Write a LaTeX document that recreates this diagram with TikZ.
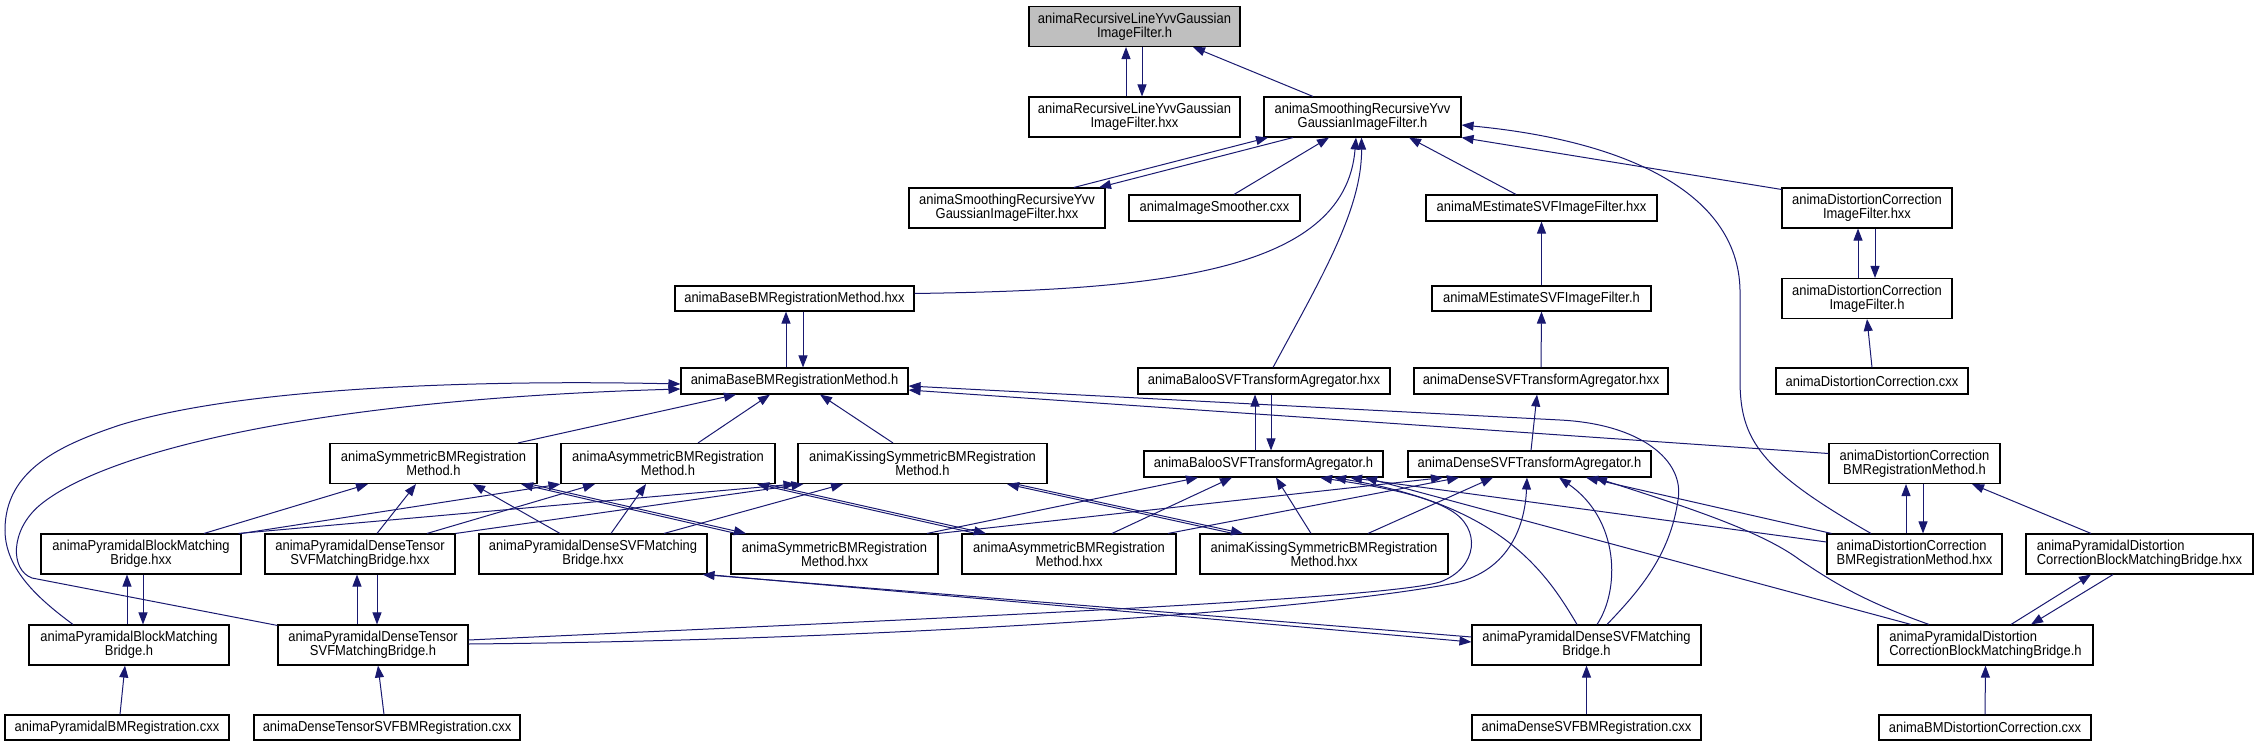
\documentclass[tikz,border=0pt]{standalone}
\usepackage{fontspec}
\setmainfont{Liberation Sans}
\newfontfamily\dotFont[FakeStretch=0.9]{Liberation Sans}
\usetikzlibrary{arrows.meta,calc}
\definecolor{incBlue}{HTML}{191970}
\definecolor{rootGray}{HTML}{BFBFBF}
\begin{document}
\begin{tikzpicture}[x=1pt, y=-1pt,
  file/.style={draw=black, line width=1.1pt, rectangle, inner sep=0pt, fill=white,
    align=center, font=\dotFont\fontsize{14.4}{14}\selectfont},
  oneline/.style={minimum height=26pt},
  twoline/.style={minimum height=40pt},
  inc/.style={draw=incBlue, line width=1pt, -{Triangle[length=12pt,width=9pt]}}]
\useasboundingbox (0,0) rectangle (2259,747);
% Files, top to bottom
\node[file, twoline, fill=rootGray, minimum width=211pt] (root) at (1134.5,26.5) {animaRecursiveLineYvvGaussian\\ImageFilter.h};
\node[file, twoline, minimum width=211pt] (rlhxx) at (1134.5,117) {animaRecursiveLineYvvGaussian\\ImageFilter.hxx};
\node[file, twoline, minimum width=197pt] (sryh) at (1362.5,117) {animaSmoothingRecursiveYvv\\GaussianImageFilter.h};
\node[file, twoline, minimum width=196pt] (sryhxx) at (1007,208) {animaSmoothingRecursiveYvv\\GaussianImageFilter.hxx};
\node[file, oneline, minimum width=171pt] (smoother) at (1214.5,208) {animaImageSmoother.cxx};
\node[file, oneline, minimum width=231pt] (mesthxx) at (1541.5,208) {animaMEstimateSVFImageFilter.hxx};
\node[file, twoline, minimum width=170pt] (dcifhxx) at (1867,208) {animaDistortionCorrection\\ImageFilter.hxx};
\node[file, oneline, minimum width=239pt, minimum height=25pt] (basehxx) at (794.5,298.5) {animaBaseBMRegistrationMethod.hxx};
\node[file, oneline, minimum width=219pt, minimum height=25pt] (mesth) at (1541.5,298.5) {animaMEstimateSVFImageFilter.h};
\node[file, twoline, minimum width=170pt] (dcifh) at (1867,298.5) {animaDistortionCorrection\\ImageFilter.h};
\node[file, oneline, minimum width=227pt] (baseh) at (794.5,381) {animaBaseBMRegistrationMethod.h};
\node[file, oneline, minimum width=252pt] (baloohxx) at (1264,381) {animaBalooSVFTransformAgregator.hxx};
\node[file, oneline, minimum width=254pt] (densehxx) at (1541,381) {animaDenseSVFTransformAgregator.hxx};
\node[file, oneline, minimum width=192pt] (dccxx) at (1872,381) {animaDistortionCorrection.cxx};
\node[file, twoline, minimum width=207pt] (symh) at (433.5,463.5) {animaSymmetricBMRegistration\\Method.h};
\node[file, twoline, minimum width=214pt] (asymh) at (668,463.5) {animaAsymmetricBMRegistration\\Method.h};
\node[file, twoline, minimum width=249pt] (kissh) at (922.5,463.5) {animaKissingSymmetricBMRegistration\\Method.h};
\node[file, oneline, minimum width=239pt] (balooh) at (1263.5,464) {animaBalooSVFTransformAgregator.h};
\node[file, oneline, minimum width=243pt] (denseh) at (1529.5,464) {animaDenseSVFTransformAgregator.h};
\node[file, twoline, minimum width=171pt] (dcbmh) at (1914.5,463.5) {animaDistortionCorrection\\BMRegistrationMethod.h};
\node[file, twoline, minimum width=200pt] (pbhxx) at (141,554) {animaPyramidalBlockMatching\\Bridge.hxx};
\node[file, twoline, minimum width=190pt] (pdthxx) at (360,554) {animaPyramidalDenseTensor\\SVFMatchingBridge.hxx};
\node[file, twoline, minimum width=228pt] (pdshxx) at (593,554) {animaPyramidalDenseSVFMatching\\Bridge.hxx};
\node[file, twoline, minimum width=207pt] (symhxx) at (834.5,554) {animaSymmetricBMRegistration\\Method.hxx};
\node[file, twoline, minimum width=214pt] (asymhxx) at (1069,554) {animaAsymmetricBMRegistration\\Method.hxx};
\node[file, twoline, minimum width=248pt] (kisshxx) at (1324,554) {animaKissingSymmetricBMRegistration\\Method.hxx};
\node[file, twoline, minimum width=175pt, align=left] (dcbmhxx) at (1914.5,554) {animaDistortionCorrection\\BMRegistrationMethod.hxx};
\node[file, twoline, minimum width=227pt, align=left] (pdchxx) at (2139.5,554) {animaPyramidalDistortion\\CorrectionBlockMatchingBridge.hxx};
\node[file, twoline, minimum width=200pt] (pbh) at (129,645) {animaPyramidalBlockMatching\\Bridge.h};
\node[file, twoline, minimum width=190pt] (pdth) at (373,645) {animaPyramidalDenseTensor\\SVFMatchingBridge.h};
\node[file, twoline, minimum width=229pt] (pdsh) at (1586.5,645) {animaPyramidalDenseSVFMatching\\Bridge.h};
\node[file, twoline, minimum width=215pt, align=left] (pdch) at (1985.5,645) {animaPyramidalDistortion\\CorrectionBlockMatchingBridge.h};
\node[file, oneline, minimum width=224pt, minimum height=25pt] (pbmcxx) at (117,727.5) {animaPyramidalBMRegistration.cxx};
\node[file, oneline, minimum width=266pt, minimum height=25pt] (dtsvfcxx) at (387,727.5) {animaDenseTensorSVFBMRegistration.cxx};
\node[file, oneline, minimum width=229pt, minimum height=25pt] (dsvfcxx) at (1586.5,727.5) {animaDenseSVFBMRegistration.cxx};
\node[file, oneline, minimum width=212pt, minimum height=25pt] (bmdccxx) at (1985,727.5) {animaBMDistortionCorrection.cxx};
% Includes of the root header
\draw[inc] ($(rlhxx.north)+(-8.5,0)$) -- ($(root.south)+(-8.5,0)$);
\draw[inc] ($(root.south)+(7.5,0)$) -- ($(rlhxx.north)+(7.5,0)$);
\draw[inc] ($(sryh.north)+(-49.5,0)$) -- ($(root.south)+(58.5,0)$);
% Smoothing filter
\draw[inc] ($(sryhxx.north)+(67,0)$) -- ($(sryh.south)+(-94.5,0)$);
\draw[inc] ($(sryh.south)+(-69.5,0)$) -- ($(sryhxx.north)+(92,0)$);
\draw[inc] ($(smoother.north)+(19.5,0)$) -- ($(sryh.south)+(-33.5,0)$);
\draw[inc] ($(mesthxx.north)+(-25.5,0)$) -- ($(sryh.south)+(46.5,0)$);
\draw[inc] ($(dcifhxx.north west)+(0,2)$) -- (sryh.south east);
\draw[inc] ($(dcbmhxx.north)+(-43.5,0)$) .. controls (1760,470) and (1740,440) .. (1740,380) -- (1740,290) .. controls (1738,190) and (1620,140) .. ($(sryh.east)+(0,8)$);
\draw[inc] ($(basehxx.east)+(0,-5)$) .. controls (1150,290) and (1345,275) .. ($(sryh.south)+(-6.5,0)$);
\draw[inc] ($(baloohxx.north)+(9,0)$) .. controls (1320,280) and (1362,210) .. ($(sryh.south)+(-1,0)$);
% Base method
\draw[inc] ($(baseh.north)+(-8.5,0)$) -- ($(basehxx.south)+(-8.5,0)$);
\draw[inc] ($(basehxx.south)+(8.5,0)$) -- ($(baseh.north)+(8.5,0)$);
\draw[inc] ($(symh.north)+(84.5,0)$) -- ($(baseh.south)+(-58.5,0)$);
\draw[inc] ($(asymh.north)+(30,0)$) -- ($(baseh.south)+(-24.5,0)$);
\draw[inc] ($(kissh.north)+(-29.5,0)$) -- ($(baseh.south)+(25.5,0)$);
\draw[inc] ($(pbh.north)+(-56,0)$) .. controls (40,600) and (5,570) .. (5,530) .. controls (5,470) and (60,445) .. (120,425) .. controls (250,385) and (500,380) .. ($(baseh.west)+(0,3)$);
\draw[inc] ($(pdth.north west)+(0,1)$) -- (32,578) .. controls (10,570) and (10,530) .. (40,505) .. controls (100,455) and (300,400) .. ($(baseh.west)+(0,8)$);
\draw[inc] ($(pdsh.north)+(20.5,0)$) .. controls (1640,590) and (1670,555) .. (1678,500) .. controls (1685,460) and (1640,424) .. (1560,420) -- ($(baseh.east)+(0,5)$);
\draw[inc] ($(dcbmh.west)+(0,-10)$) -- ($(baseh.east)+(0,9)$);
% M-estimate and distortion filters
\draw[inc] (mesth.north) -- (mesthxx.south);
\draw[inc] (densehxx.north) -- (mesth.south);
\draw[inc] ($(dcifh.north)+(-9,0)$) -- ($(dcifhxx.south)+(-9,0)$);
\draw[inc] ($(dcifhxx.south)+(8,0)$) -- ($(dcifh.north)+(8,0)$);
\draw[inc] (dccxx.north) -- (dcifh.south);
% Agregators
\draw[inc] ($(balooh.north)+(-8.5,0)$) -- ($(baloohxx.south)+(-9,0)$);
\draw[inc] ($(baloohxx.south)+(7,0)$) -- ($(balooh.north)+(7.5,0)$);
\draw[inc] ($(denseh.north)+(1.5,0)$) -- ($(densehxx.south)+(-4,0)$);
% Registration methods
\draw[inc] ($(pbhxx.north)+(63,0)$) -- ($(symh.south)+(-65.5,0)$);
\draw[inc] ($(pdthxx.north)+(17,0)$) -- ($(symh.south)+(-17.5,0)$);
\draw[inc] ($(pdshxx.north)+(-33,0)$) -- ($(symh.south)+(39.5,0)$);
\draw[inc] (pbhxx.north east) -- (asymh.south west);
\draw[inc] ($(pdthxx.north)+(67,0)$) -- ($(asymh.south)+(-73,0)$);
\draw[inc] ($(pdshxx.north)+(18,0)$) -- ($(asymh.south)+(-22,0)$);
\draw[inc] ($(pbhxx.north east)+(-3,0)$) -- ($(kissh.south west)+(-2,0)$);
\draw[inc] (pdthxx.north east) -- ($(kissh.south west)+(6,0)$);
\draw[inc] ($(pdshxx.north)+(71,0)$) -- ($(kissh.south)+(-79.5,0)$);
\draw[inc] ($(symhxx.north)+(-98.5,0)$) -- ($(symh.south)+(87.5,0)$);
\draw[inc] ($(symh.south)+(96.5,0)$) -- ($(symhxx.north)+(-88.5,0)$);
\draw[inc] ($(asymhxx.north)+(-93,0)$) -- ($(asymh.south)+(89,0)$);
\draw[inc] ($(asymh.south)+(98,0)$) -- ($(asymhxx.north)+(-83,0)$);
\draw[inc] ($(kisshxx.north)+(-91,0)$) -- ($(kissh.south)+(84.5,0)$);
\draw[inc] ($(kissh.south)+(93.5,0)$) -- ($(kisshxx.north)+(-81,0)$);
% Users of the agregators
\draw[inc] ($(symhxx.north)+(92.5,0)$) -- ($(balooh.south)+(-65.5,0)$);
\draw[inc] (symhxx.north east) -- ($(denseh.south)+(-86.5,0)$);
\draw[inc] ($(asymhxx.north)+(43,0)$) -- ($(balooh.south)+(-31.5,0)$);
\draw[inc] ($(asymhxx.north)+(99,0)$) -- ($(denseh.south)+(-70.5,0)$);
\draw[inc] ($(kisshxx.north)+(-13,0)$) -- ($(balooh.south)+(12.5,0)$);
\draw[inc] ($(kisshxx.north)+(44,0)$) -- ($(denseh.south)+(-36.5,0)$);
\draw[inc] ($(pdth.east)+(0,-5)$) .. controls (900,620) and (1380,600) .. (1440,582) .. controls (1478,568) and (1482,528) .. (1450,510) .. controls (1420,492) and (1360,484) .. ($(balooh.south)+(56.5,0)$);
\draw[inc] ($(pdth.east)+(0,-1)$) .. controls (900,640) and (1320,610) .. (1455,583) .. controls (1510,570) and (1525,525) .. ($(denseh.south)+(-2.5,0)$);
\draw[inc] ($(pdsh.north)+(-9.5,0)$) .. controls (1545,570) and (1500,505) .. ($(balooh.south)+(70.5,0)$);
\draw[inc] ($(pdsh.north)+(10.5,0)$) .. controls (1620,590) and (1620,520) .. ($(denseh.south)+(29.5,0)$);
\draw[inc] ($(dcbmhxx.west)+(0,-12)$) -- ($(balooh.south)+(86.5,0)$);
\draw[inc] ($(dcbmhxx.north west)+(5,0)$) -- ($(denseh.south)+(56.5,0)$);
\draw[inc] ($(pdch.north)+(-74.5,0)$) -- ($(balooh.south)+(101.5,0)$);
\draw[inc] ($(pdch.north)+(-56.5,0)$) .. controls (1860,600) and (1830,580) .. (1800,560) .. controls (1760,530) and (1680,505) .. ($(denseh.south)+(65.5,0)$);
% Bridges
\draw[inc] ($(pbh.north)+(-2,0)$) -- ($(pbhxx.south)+(-14,0)$);
\draw[inc] ($(pbhxx.south)+(2,0)$) -- ($(pbh.north)+(14,0)$);
\draw[inc] ($(pdth.north)+(-16,0)$) -- ($(pdthxx.south)+(-3,0)$);
\draw[inc] ($(pdthxx.south)+(17,0)$) -- ($(pdth.north)+(4,0)$);
\draw[inc] ($(pdsh.west)+(0,-8)$) -- ($(pdshxx.south east)+(-5,0)$);
\draw[inc] (pdshxx.south east) -- ($(pdsh.west)+(0,-3)$);
\draw[inc] ($(dcbmhxx.north)+(-8.5,0)$) -- ($(dcbmh.south)+(-8.5,0)$);
\draw[inc] ($(dcbmh.south)+(8.5,0)$) -- ($(dcbmhxx.north)+(8.5,0)$);
\draw[inc] ($(pdchxx.north)+(-48.5,0)$) -- ($(dcbmh.south)+(57.5,0)$);
\draw[inc] ($(pdch.north)+(25.5,0)$) -- ($(pdchxx.south)+(-48.5,0)$);
\draw[inc] ($(pdchxx.south)+(-26.5,0)$) -- ($(pdch.north)+(45.5,0)$);
% Programs
\draw[inc] ($(pbmcxx.north)+(3,0)$) -- ($(pbh.south)+(-4,0)$);
\draw[inc] ($(dtsvfcxx.north)+(-3,0)$) -- ($(pdth.south)+(5,0)$);
\draw[inc] (dsvfcxx.north) -- (pdsh.south);
\draw[inc] (bmdccxx.north) -- (pdch.south);
\end{tikzpicture}
\end{document}
